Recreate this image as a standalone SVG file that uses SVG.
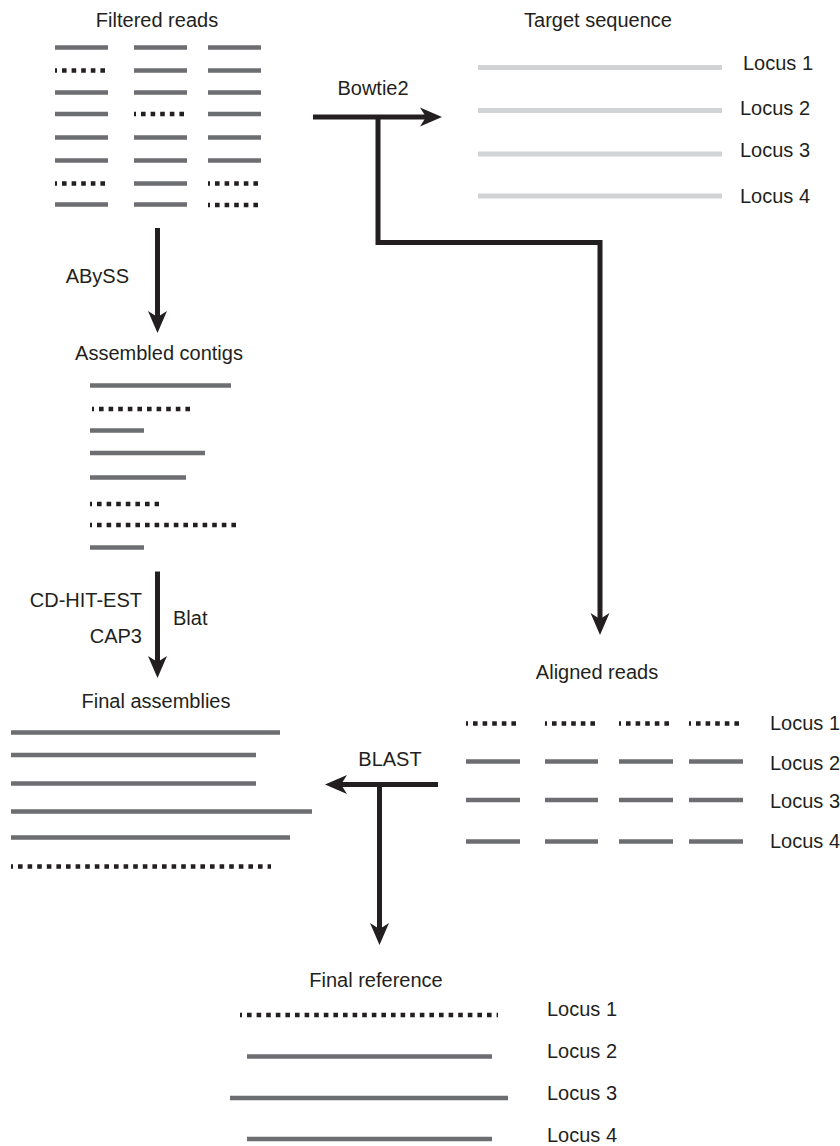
<svg xmlns="http://www.w3.org/2000/svg" width="840" height="1146" viewBox="0 0 840 1146">
  <style>
    text { font-family: "Liberation Sans", Arial, sans-serif; font-size: 20px; fill: #231f20; }
    .mid { text-anchor: middle; }
    .end { text-anchor: end; }
    .read { stroke: #6d6e71; stroke-width: 4.5; fill: none; }
    .target { stroke: #d1d3d4; stroke-width: 5; fill: none; }
    .dot { stroke: #231f20; stroke-width: 4.5; fill: none; stroke-dasharray: 4.6 5; stroke-dashoffset: 2.6; }
    .flow { stroke: #231f20; stroke-width: 5; fill: none; stroke-linejoin: miter; }
  </style>
  <defs>
    <marker id="head" markerUnits="userSpaceOnUse" markerWidth="24" markerHeight="20" refX="6" refY="0" orient="auto" overflow="visible">
      <path d="M22,0 L0,-9.5 L6,0 L0,9.5 Z" fill="#231f20"/>
    </marker>
  </defs>

  <rect width="840" height="1146" fill="#ffffff"/>

  <!-- Filtered reads -->
  <g id="filtered-reads">
    <text class="mid" x="157" y="27">Filtered reads</text>
    <path class="read" d="M55,47.5H108 M134,47.5H187 M208,47.5H261"/>
    <path class="dot" d="M55,70.5H108"/>
    <path class="read" d="M134,70.5H187 M208,70.5H261"/>
    <path class="read" d="M55,92.5H108 M134,92.5H187 M208,92.5H261"/>
    <path class="read" d="M55,114H108 M208,114H261"/>
    <path class="dot" d="M134,114H187"/>
    <path class="read" d="M55,137.5H108 M134,137.5H187 M208,137.5H261"/>
    <path class="read" d="M55,160.5H108 M134,160.5H187 M208,160.5H261"/>
    <path class="dot" d="M55,183.5H108 M208,183.5H261"/>
    <path class="read" d="M134,183.5H187"/>
    <path class="read" d="M55,204.5H108 M134,204.5H187"/>
    <path class="dot" d="M208,205H261"/>
  </g>

  <!-- Target sequence -->
  <g id="target-sequence">
    <text class="mid" x="598" y="27">Target sequence</text>
    <path class="target" d="M478,67.5H722 M478,110.5H722 M478,154H722 M478,196H722"/>
    <text x="743" y="70">Locus 1</text>
    <text x="740" y="115">Locus 2</text>
    <text x="740" y="157">Locus 3</text>
    <text x="740" y="203">Locus 4</text>
  </g>

  <!-- Assembled contigs -->
  <g id="assembled-contigs">
    <text class="mid" x="159" y="360">Assembled contigs</text>
    <path class="read" d="M90,385.5H231"/>
    <path class="dot" d="M92,409H193"/>
    <path class="read" d="M90,430.5H144 M90,453H205 M90,477.5H186"/>
    <path class="dot" d="M90,504H159 M90,525H236"/>
    <path class="read" d="M90,547.5H144"/>
  </g>

  <!-- Final assemblies -->
  <g id="final-assemblies">
    <text class="mid" x="156" y="708">Final assemblies</text>
    <path class="read" d="M11,732.5H280 M11,755H256 M11,783.5H256 M11,811.5H312 M11,837.5H290"/>
    <path class="dot" d="M11,866.5H271"/>
  </g>

  <!-- Aligned reads -->
  <g id="aligned-reads">
    <text class="mid" x="597" y="679">Aligned reads</text>
    <path class="dot" d="M466,723.5H520 M545,723.5H598 M619,723.5H673 M689,723.5H743"/>
    <path class="read" d="M466,761.5H520 M545,761.5H598 M619,761.5H673 M689,761.5H743"/>
    <path class="read" d="M466,800H520 M545,800H598 M619,800H673 M689,800H743"/>
    <path class="read" d="M466,841.5H520 M545,841.5H598 M619,841.5H673 M689,841.5H743"/>
    <text x="770" y="730">Locus 1</text>
    <text x="770" y="770">Locus 2</text>
    <text x="770" y="808">Locus 3</text>
    <text x="770" y="848">Locus 4</text>
  </g>

  <!-- Final reference -->
  <g id="final-reference">
    <text class="mid" x="376" y="987">Final reference</text>
    <path class="dot" d="M240,1015H498"/>
    <path class="read" d="M247,1056.5H492 M230,1098H508 M247,1139H492"/>
    <text x="547" y="1016">Locus 1</text>
    <text x="547" y="1058">Locus 2</text>
    <text x="547" y="1100">Locus 3</text>
    <text x="547" y="1142">Locus 4</text>
  </g>

  <!-- Connectors -->
  <g id="connectors">
    <path class="flow" d="M157.5,228V317" marker-end="url(#head)"/>
    <text class="end" x="129" y="283">ABySS</text>

    <path class="flow" d="M313,117H426" marker-end="url(#head)"/>
    <path class="flow" d="M378,117V242.5H600V619" marker-end="url(#head)"/>
    <text class="mid" x="373" y="95">Bowtie2</text>

    <path class="flow" d="M157.5,571.5V662" marker-end="url(#head)"/>
    <text class="end" x="142" y="607">CD-HIT-EST</text>
    <text class="end" x="142" y="643">CAP3</text>
    <text x="173" y="625">Blat</text>

    <path class="flow" d="M438,784.5H341" marker-end="url(#head)"/>
    <path class="flow" d="M379.5,784.5V929" marker-end="url(#head)"/>
    <text class="mid" x="390" y="766">BLAST</text>
  </g>
</svg>
